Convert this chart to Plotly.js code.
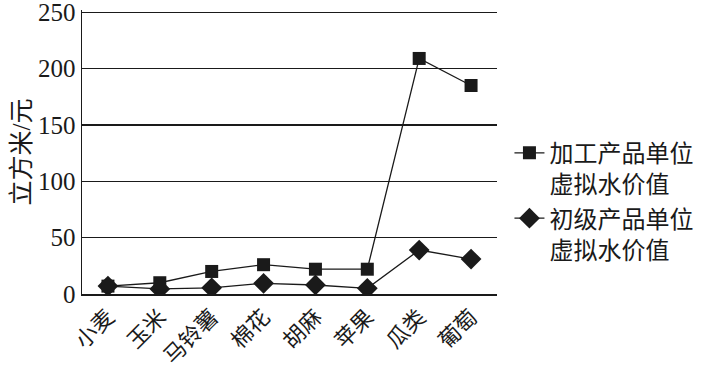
<!DOCTYPE html>
<html><head><meta charset="utf-8">
<script src="https://cdn.plot.ly/plotly-3.0.1.min.js"></script>
<style>html,body{margin:0;padding:0;background:#fff}#c{width:720px;height:370px}</style>
</head><body><div id="c"></div>
<script>
const categories = ['小麦','玉米','马铃薯','棉花','胡麻','苹果','瓜类','葡萄'];
const processedValues = [7, 10, 20, 26, 22, 22, 209, 185];
const primaryValues = [7, 4.5, 5.5, 9.5, 8, 5, 39, 31];
const seriesNames = ['加工产品单位<br>虚拟水价值', '初级产品单位<br>虚拟水价值'];
const yTicks = [0, 50, 100, 150, 200, 250];

const fontFam = "'Liberation Serif', 'Noto Sans CJK SC', serif";
const traces = [
  {x: categories, y: primaryValues, name: seriesNames[1], type: 'scatter', mode: 'lines+markers',
   line: {color: '#1a1a1a', width: 1.3},
   marker: {symbol: 'diamond', size: 16, color: '#1a1a1a'}},
  {x: categories, y: processedValues, name: seriesNames[0], type: 'scatter', mode: 'lines+markers',
   line: {color: '#1a1a1a', width: 1.3},
   marker: {symbol: 'square', size: 13, color: '#1a1a1a'}}
];
const layout = {
  width: 720, height: 370,
  margin: {l: 82, r: 223, t: 10, b: 76},
  paper_bgcolor: '#fff', plot_bgcolor: '#fff',
  font: {family: fontFam, color: '#1a1a1a', size: 22},
  showlegend: true,
  legend: {x: 1.03, xanchor: 'left', y: 0.575, yanchor: 'top', valign: 'top', traceorder: 'reversed',
           font: {size: 24, family: fontFam}, tracegroupgap: 0, bgcolor: 'rgba(0,0,0,0)'},
  xaxis: {type: 'category', tickangle: -45, showline: true, linecolor: '#1a1a1a', linewidth: 1.5,
          showgrid: false, ticks: '', tickfont: {size: 22}, zeroline: false, range: [-0.5, 7.5]},
  yaxis: {range: [0, 252], tickvals: yTicks, showline: true, linecolor: '#1a1a1a', linewidth: 1.5,
          showgrid: true, gridcolor: '#1a1a1a', gridwidth: 1.3, zeroline: false, ticks: '',
          tickfont: {size: 25, family: "'Liberation Serif', 'Times New Roman', serif"}, ticklen: 0, ticklabeloverflow: 'allow',
          title: {text: '立方米/元', font: {size: 25}, standoff: 0}}
};
Plotly.newPlot('c', traces, layout, {displayModeBar: false, staticPlot: true});
</script></body></html>
